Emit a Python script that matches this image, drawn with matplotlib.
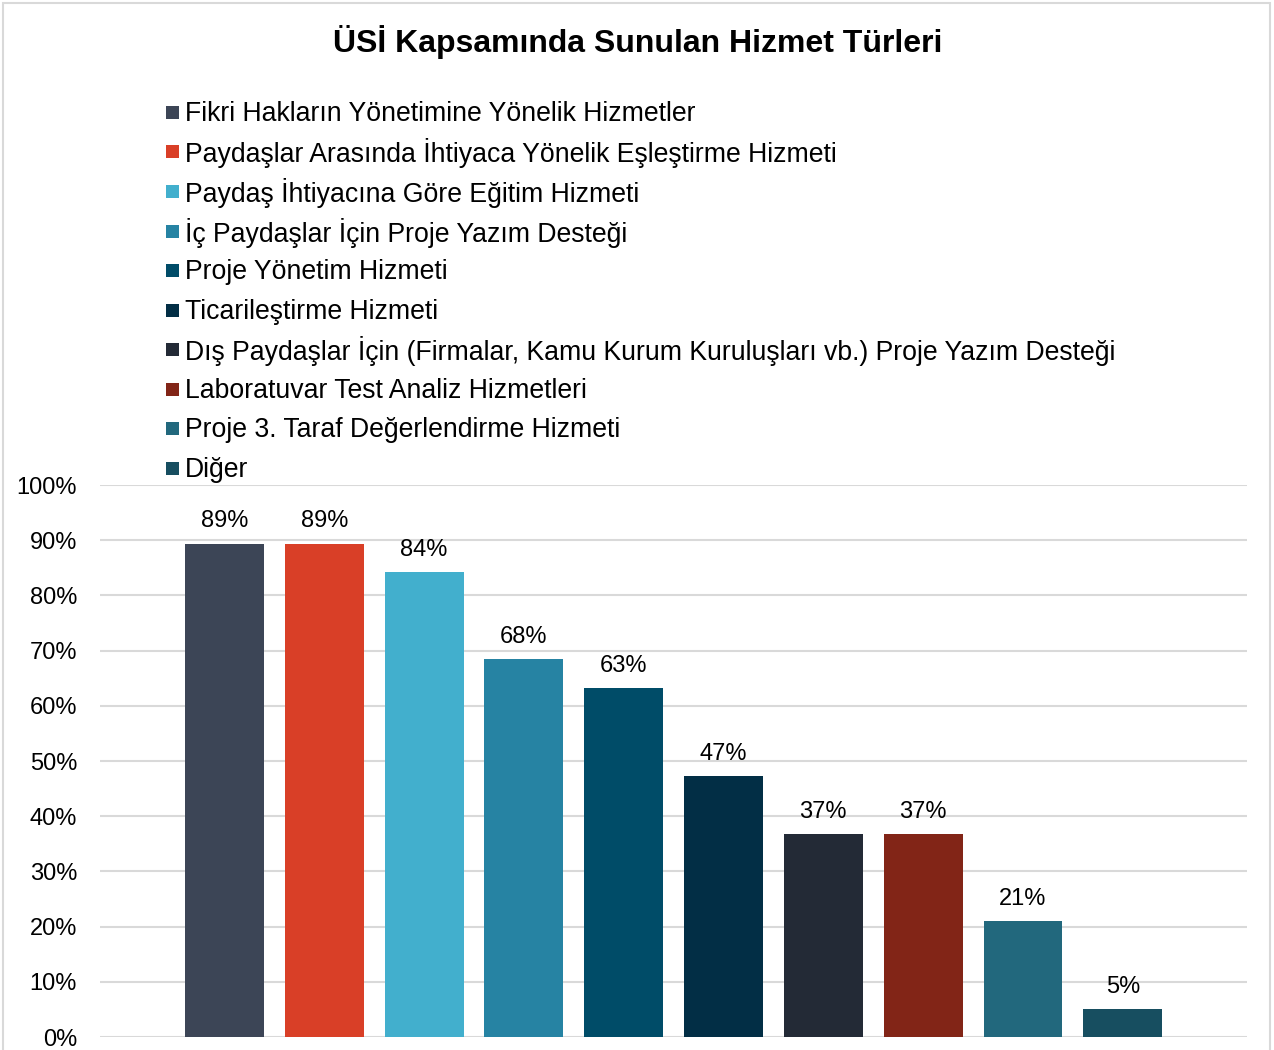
import matplotlib
matplotlib.use("Agg")
import matplotlib.pyplot as plt
from matplotlib.patches import Rectangle

plt.rcParams['font.family'] = ['Liberation Sans', 'DejaVu Sans']

title = "ÜSİ Kapsamında Sunulan Hizmet Türleri"
categories = [
    "Fikri Hakların Yönetimine Yönelik Hizmetler",
    "Paydaşlar Arasında İhtiyaca Yönelik Eşleştirme Hizmeti",
    "Paydaş İhtiyacına Göre Eğitim Hizmeti",
    "İç Paydaşlar İçin Proje Yazım Desteği",
    "Proje Yönetim Hizmeti",
    "Ticarileştirme Hizmeti",
    "Dış Paydaşlar İçin (Firmalar, Kamu Kurum Kuruluşları vb.) Proje Yazım Desteği",
    "Laboratuvar Test Analiz Hizmetleri",
    "Proje 3. Taraf Değerlendirme Hizmeti",
    "Diğer",
]
values = [89.4, 89.4, 84.2, 68.4, 63.2, 47.3, 36.8, 36.8, 21.0, 5.1]
colors = ["#3C4556", "#D93F27", "#42AFCD", "#2683A3", "#004C68",
          "#022E45", "#232A36", "#822517", "#22687D", "#174E60"]
yticks = [0, 10, 20, 30, 40, 50, 60, 70, 80, 90, 100]

W, H = 1274, 1050
fig = plt.figure(figsize=(W / 100, H / 100), dpi=100)
fig.patch.set_facecolor("white")

# figure border
fig.patches.append(Rectangle((3 / W, -0.1), (1270 - 3) / W, (H - 3) / H + 0.1,
                             transform=fig.transFigure, fill=False,
                             edgecolor="#D9D9D9", linewidth=1.5))

ax = fig.add_axes([100 / W, (H - 1037) / H, (1247 - 100) / W, (1037 - 485) / H])
x = list(range(len(values)))
ax.bar(x, values, width=0.79, color=colors, zorder=3)
for xi, v in zip(x, values):
    ax.text(xi, v + 2.0, f"{v:.0f}%", ha="center", va="bottom", fontsize=17, color="#000000")

ax.set_xlim(-1.247, 10.245)
ax.set_ylim(0, 100)
ax.set_yticks(yticks)
ax.set_yticklabels([f"{t}%" for t in yticks], fontsize=17)
ax.set_xticks([])
ax.grid(axis="y", color="#D9D9D9", linewidth=1.5, zorder=0)
for s in ax.spines.values():
    s.set_visible(False)
ax.tick_params(axis="y", length=0, pad=16.5)

fig.text(638 / W, 1 - 42 / H, title, ha="center", va="center", fontsize=23, fontweight="bold")

# legend
row_y = [112, 151, 191, 231, 270, 310, 349, 389, 428, 468]
for yy, lab, c in zip(row_y, categories, colors):
    fig.patches.append(Rectangle((166 / W, 1 - (yy + 6.5) / H), 13 / W, 13 / H,
                                 transform=fig.transFigure, facecolor=c, edgecolor="none"))
    fig.text(185 / W, 1 - (yy + 2) / H, lab, ha="left", va="center", fontsize=19.2)

fig.savefig("out.png", dpi=100, facecolor="white")
